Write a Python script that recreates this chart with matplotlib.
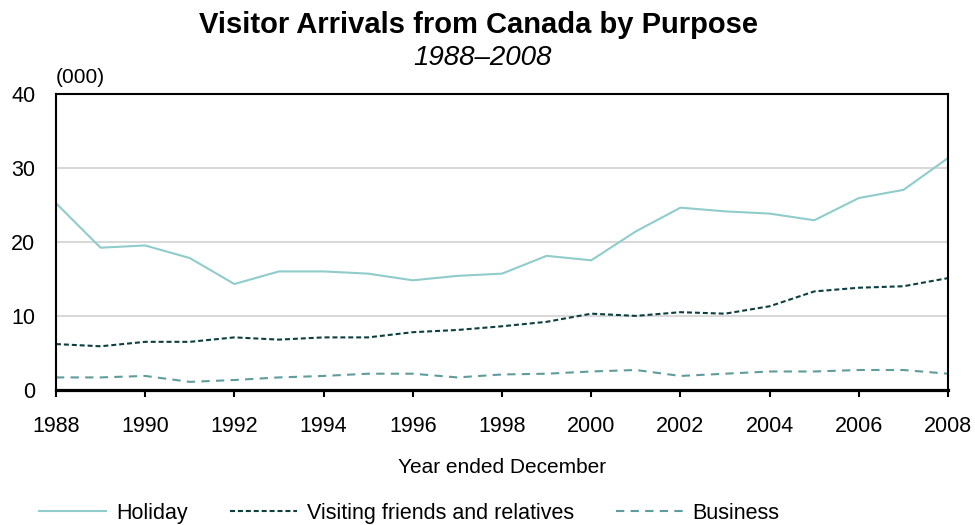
import matplotlib
matplotlib.use('Agg')
import matplotlib.pyplot as plt

plt.rcParams['font.family'] = ['Liberation Sans', 'DejaVu Sans']

years = list(range(1988, 2009))
holiday = [25.2, 19.2, 19.5, 17.8, 14.3, 16.0, 16.0, 15.7, 14.8, 15.4, 15.7,
           18.1, 17.5, 21.4, 24.6, 24.1, 23.8, 22.9, 25.9, 27.0, 31.3]
vfr = [6.2, 5.9, 6.5, 6.5, 7.1, 6.8, 7.1, 7.1, 7.8, 8.1, 8.6,
       9.2, 10.3, 10.0, 10.5, 10.3, 11.3, 13.3, 13.8, 14.0, 15.1]
business = [1.7, 1.7, 1.9, 1.1, 1.35, 1.7, 1.9, 2.2, 2.2, 1.7, 2.1,
            2.2, 2.5, 2.7, 1.9, 2.2, 2.5, 2.5, 2.7, 2.7, 2.2]
xticks = list(range(1988, 2009, 2))
yticks = [0, 10, 20, 30, 40]

fig = plt.figure(figsize=(9.75, 5.25), dpi=100)
ax = fig.add_axes([0.0574, 0.2571, 0.915, 0.5648])

for y in [10, 20, 30]:
    ax.axhline(y, color='#d9d9d9', lw=1.5, zorder=0)

ax.plot(years, holiday, color='#8fcccb', lw=1.5, label='Holiday')
ax.plot(years, vfr, color='#0e3f40', lw=1.5, ls=(0, (2.4, 1.4)), label='Visiting friends and relatives')
ax.plot(years, business, color='#5f9d9c', lw=1.5, ls=(0, (4, 3)), label='Business')

ax.set_xlim(1988, 2008)
ax.set_ylim(0, 40)
ax.set_xticks(xticks)
ax.set_yticks(yticks)
ax.tick_params(axis='x', direction='out', length=5, width=1.5, labelsize=15.5, pad=14)
ax.tick_params(axis='y', length=0, labelsize=15.5, pad=15)
for s in ['left', 'top', 'right']:
    ax.spines[s].set_linewidth(1.5)
ax.spines['bottom'].set_linewidth(2.3)

ax.set_xlabel('Year ended December', fontsize=15, labelpad=15)
fig.text(0.0574, 1 - 83 / 525, '(000)', fontsize=15, ha='left', va='baseline')

fig.text(0.491, 1 - 33 / 525, 'Visitor Arrivals from Canada by Purpose', ha='center',
         va='baseline', fontsize=21, fontweight='bold')
fig.text(0.495, 1 - 65 / 525, '1988\u20132008', ha='center', va='baseline',
         fontsize=20, style='italic')

fig.legend(loc='center', bbox_to_anchor=(0.42, 0.022), ncol=3, frameon=False,
           fontsize=15.5, handlelength=3.1, columnspacing=1.95, handletextpad=0.47,
           borderpad=0, borderaxespad=0)

fig.savefig('out.png', dpi=100)
